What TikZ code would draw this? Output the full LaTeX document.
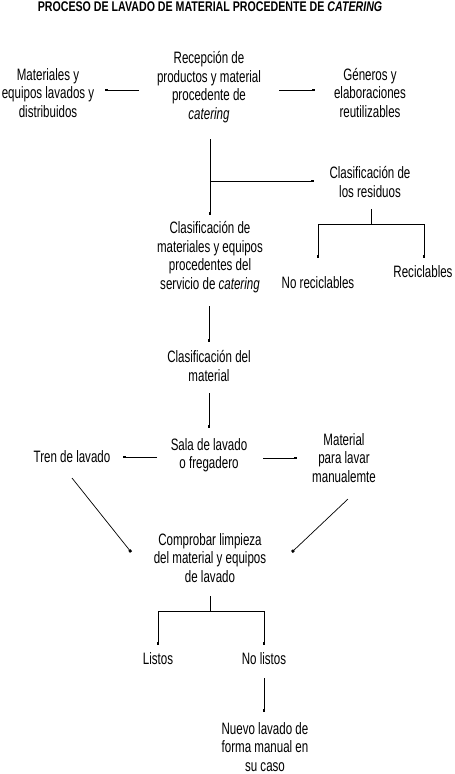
\documentclass[tikz,border=0pt]{standalone}
\usepackage{fontspec}
\setmainfont[FakeStretch=0.70]{Liberation Sans}
\newfontfamily\titlefont[FakeStretch=0.76]{Liberation Sans}
\usetikzlibrary{arrows.meta}
\begin{document}
\begin{tikzpicture}[x=1pt,y=-1pt,
  lbl/.style={align=center, inner sep=0pt, font=\fontsize{16.5}{18.5}\selectfont},
  ttl/.style={inner sep=0pt, font=\titlefont\bfseries\fontsize{14}{16}\selectfont},
  ln/.style={line width=0.9pt},
  dt/.style={ln, -{Square[length=2.6pt,width=2.6pt]}}]
\useasboundingbox (0,0) rectangle (455,774);
% title
\node[ttl] (title) at (210,7) {PROCESO DE LAVADO DE MATERIAL PROCEDENTE DE \textit{CATERING}};
% nodes
\node[lbl] (rec) at (209,87) {Recepción de\\productos y material\\procedente de\\\textit{catering}};
\node[lbl] (mat) at (48,93) {Materiales y\\equipos lavados y\\distribuidos};
\node[lbl] (gen) at (370,93) {Géneros y\\elaboraciones\\reutilizables};
\node[lbl] (res) at (370,182) {Clasificación de\\los residuos};
\node[lbl] (nor) at (318,283) {No reciclables};
\node[lbl] (reci) at (423,272) {Reciclables};
\node[lbl] (cme) at (210,257) {Clasificación de\\materiales y equipos\\procedentes del\\servicio de \textit{catering}};
\node[lbl] (cma) at (209,366) {Clasificación del\\material};
\node[lbl] (sala) at (209,455) {Sala de lavado\\o fregadero};
\node[lbl] (tren) at (72,457) {Tren de lavado};
\node[lbl] (man) at (344,458) {Material\\para lavar\\manualemte};
\node[lbl] (comp) at (210,558) {Comprobar limpieza\\del material y equipos\\de lavado};
\node[lbl] (lis) at (158,659) {Listos};
\node[lbl] (nol) at (264,659) {No listos};
\node[lbl] (nue) at (265,747) {Nuevo lavado de\\forma manual en\\su caso};
% connector coordinates
\coordinate (recL) at (139,90); \coordinate (matR) at (105,90);
\coordinate (recR) at (279,90); \coordinate (genL) at (315,90);
\coordinate (recB) at (210,139); \coordinate (cmeT) at (210,215);
\coordinate (brA) at (210,181); \coordinate (resL) at (314,181);
\coordinate (resB) at (371,209); \coordinate (resJ) at (371,224);
\coordinate (norJ) at (318,224); \coordinate (norT) at (318,258);
\coordinate (reciJ) at (424,224); \coordinate (reciT) at (424,258);
\coordinate (cmeB) at (209,306); \coordinate (cmaT) at (209,342);
\coordinate (cmaB) at (209,393); \coordinate (salaT) at (209,428);
\coordinate (salaL) at (157,457); \coordinate (trenR) at (123,457);
\coordinate (salaR) at (263,458); \coordinate (manL) at (297,458);
\coordinate (trenB) at (72,478); \coordinate (compL) at (131,552);
\coordinate (manB) at (348,499); \coordinate (compR) at (292,552);
\coordinate (compB) at (210,596); \coordinate (compJ) at (210,611);
\coordinate (lisJ) at (158,611); \coordinate (lisT) at (158,645);
\coordinate (nolJ) at (264,611); \coordinate (nolT) at (264,645);
\coordinate (nolB) at (264,678); \coordinate (nueT) at (264,712);
% connectors
\draw[dt] (recL) -- (matR);
\draw[dt] (recR) -- (genL);
\draw[dt] (recB) -- (cmeT);
\draw[dt] (brA) -- (resL);
\draw[ln] (resB) -- (resJ);
\draw[dt] (resJ) -- (norJ) -- (norT);
\draw[dt] (resJ) -- (reciJ) -- (reciT);
\draw[dt] (cmeB) -- (cmaT);
\draw[dt] (cmaB) -- (salaT);
\draw[dt] (salaL) -- (trenR);
\draw[dt] (salaR) -- (manL);
\draw[dt, line width=0.7pt] (trenB) -- (compL);
\draw[dt, line width=0.7pt] (manB) -- (compR);
\draw[ln] (compB) -- (compJ);
\draw[dt] (compJ) -- (lisJ) -- (lisT);
\draw[dt] (compJ) -- (nolJ) -- (nolT);
\draw[dt] (nolB) -- (nueT);
\end{tikzpicture}
\end{document}
